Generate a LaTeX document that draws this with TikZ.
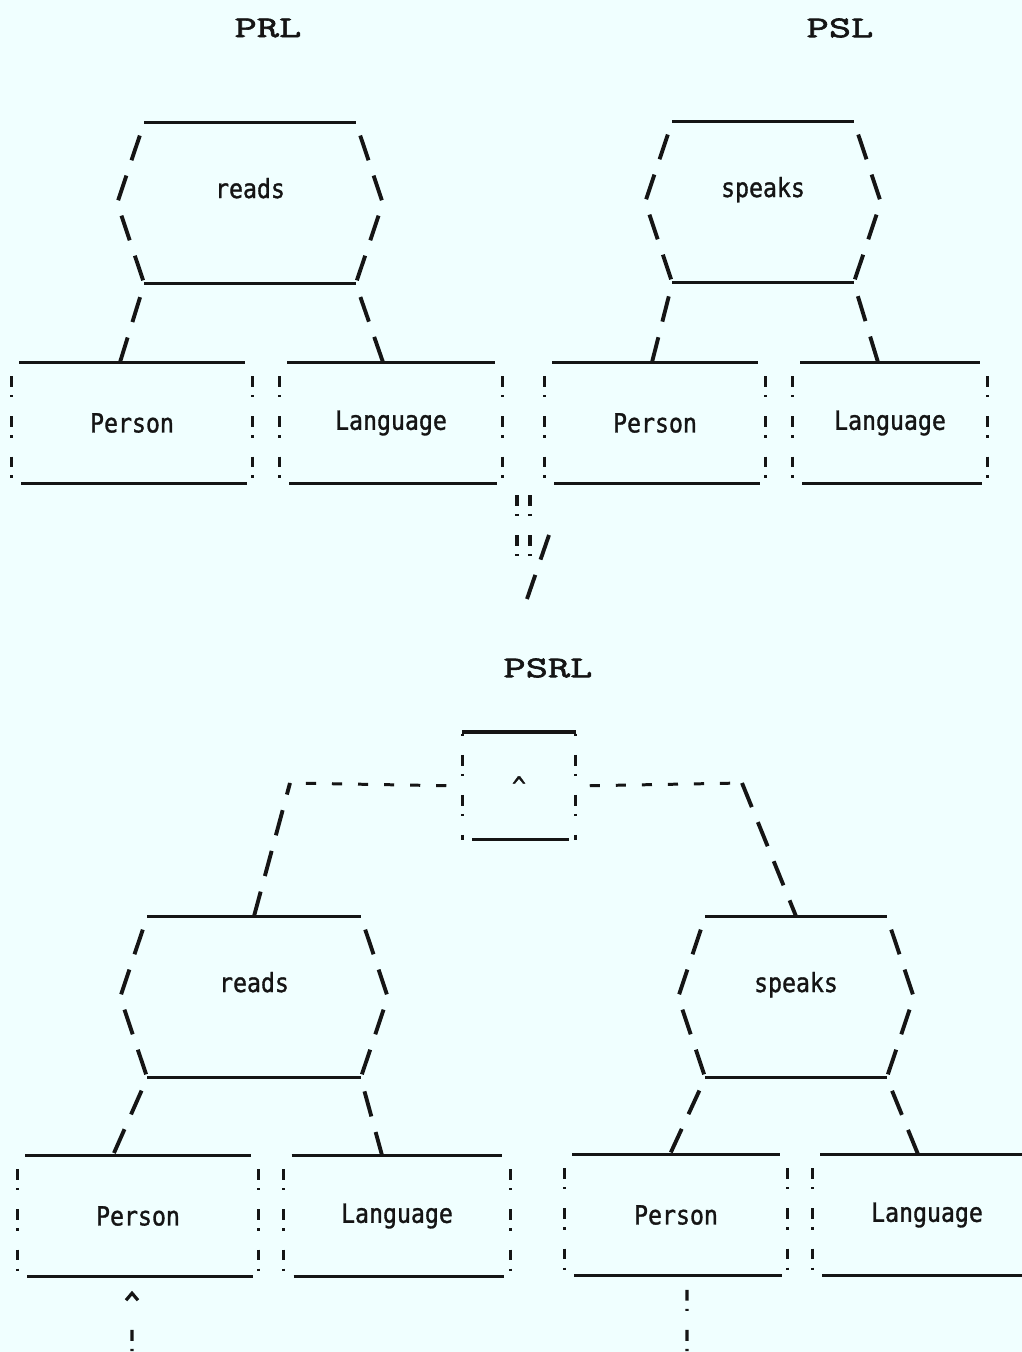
\documentclass[tikz,border=0pt]{standalone}
\usepackage{fontspec}
\usepackage{tikz}
\usetikzlibrary{arrows.meta}
\newfontfamily\asciifont[FakeStretch=0.88, FakeBold=1.2]{DejaVu Sans Mono}
\newfontfamily\headfont[FakeStretch=1.4, FakeBold=2]{lmmono10-regular.otf}
\definecolor{termBg}{HTML}{F0FFFF}
\definecolor{termInk}{HTML}{151515}
\tikzset{
  under/.style={draw=termInk, line width=0.8pt},
  slant/.style={draw=termInk, line width=1.1pt,
    dash pattern=on 7.4pt off 4.6pt, dash phase=8pt},
  bang/.style={draw=termInk, line width=0.9pt,
    dash pattern=on 3.1pt off 2.3pt on 0.6pt off 5.4pt, dash phase=7.4pt},
  minus/.style={draw=termInk, line width=0.85pt, dash pattern=on 2.9pt off 4.5pt},
  feed/.style={bang, dash pattern=on 3.1pt off 2.3pt on 0.6pt off 16.8pt, dash phase=12.8pt},
  relation/.style={minimum height=1.6cm, inner sep=0pt, text depth=0.3cm,
    font=\asciifont\fontsize{7.5pt}{9pt}\selectfont, text=termInk},
  entity/.style={minimum height=1.2cm, inner sep=0pt,
    font=\asciifont\fontsize{7.5pt}{9pt}\selectfont, text=termInk},
  heading/.style={font=\headfont\fontsize{8.6pt}{10pt}\selectfont, text=termInk}
}

\begin{document}
\begin{tikzpicture}[x=0.01cm, y=-0.01cm]
  \useasboundingbox (0,0) rectangle (1022,1352);
  \fill[termBg] (0,0) rectangle (1022,1352);
  \clip (0,0) rectangle (1022,1352);

  % headings
  \node[heading] (hPRL) at (268,28) {PRL};
  \node[heading] (hPSL) at (840,28) {PSL};
  \node[heading] (hPSRL) at (548,668) {PSRL};

  % relationships
  \node[relation, minimum width=2.1cm] (rdA) at (250,203) {reads};
  \node[relation, minimum width=1.8cm] (spA) at (763,202) {speaks};
  \node[relation, minimum width=2.12cm] (rdB) at (254,997) {reads};
  \node[relation, minimum width=1.8cm] (spB) at (796,997) {speaks};

  % entities
  \node[entity, minimum width=2.4cm] (pA) at (132,423) {Person};
  \node[entity, minimum width=2.22cm] (lA) at (391,423) {Language};
  \node[entity, minimum width=2.2cm] (pB) at (655,423) {Person};
  \node[entity, minimum width=1.94cm] (lB) at (890,423) {Language};
  \node[entity, minimum width=2.4cm] (pC) at (138,1216) {Person};
  \node[entity, minimum width=2.25cm] (lC) at (397,1216) {Language};
  \node[entity, minimum width=2.22cm] (pD) at (676,1215) {Person};
  \node[entity, minimum width=2.28cm] (lD) at (927,1215) {Language};
  \node[entity, minimum width=1.12cm, minimum height=1.06cm] (andN) at (519,786) {\textasciicircum};

  % hexagon outlines
  \foreach \r in {rdA,spA,rdB,spB}{
    \draw[under] (\r.north west) -- (\r.north east) (\r.south west) -- (\r.south east);
    \draw[slant] (\r.north west) -- ([xshift=-0.27cm]\r.west) -- (\r.south west);
    \draw[slant] (\r.north east) -- ([xshift=0.27cm]\r.east) -- (\r.south east);
  }

  % box outlines
  \foreach \b in {pA,lA,pB,lB,pC,lC,pD,lD}{
    \draw[under] ([xshift=0.08cm]\b.north west) -- ([xshift=-0.08cm]\b.north east)
                 ([xshift=0.1cm]\b.south west) -- ([xshift=-0.06cm]\b.south east);
    \draw[bang] (\b.north west) -- (\b.south west) (\b.north east) -- (\b.south east);
  }
  \draw[under, line width=1.1pt] (andN.north west) -- (andN.north east);
  \draw[under] ([xshift=0.1cm]andN.south west) -- ([xshift=-0.07cm]andN.south east);
  \draw[bang, dash phase=5pt] (andN.north west) -- (andN.south west)
                              (andN.north east) -- (andN.south east);

  % relationship legs
  \draw[slant] (rdA.south west) -- ([xshift=-0.12cm]pA.north);
  \draw[slant] (rdA.south east) -- ([xshift=-0.08cm]lA.north);
  \draw[slant] (spA.south west) -- ([xshift=-0.03cm]pB.north);
  \draw[slant] (spA.south east) -- ([xshift=-0.12cm]lB.north);
  \draw[slant] (rdB.south west) -- ([xshift=-0.25cm]pC.north);
  \draw[slant] (rdB.south east) -- ([xshift=-0.15cm]lC.north);
  \draw[slant] (spB.south west) -- ([xshift=-0.06cm]pD.north);
  \draw[slant] (spB.south east) -- ([xshift=-0.09cm]lD.north);

  % join marks between the two halves
  \coordinate (mixL) at (517,495);
  \coordinate (mixLe) at (517,560);
  \coordinate (mixR) at (530,495);
  \coordinate (mixRe) at (530,560);
  \coordinate (mixS) at (549,535);
  \coordinate (mixSe) at (527,599);
  \draw[bang, dash phase=0pt] (mixL) -- (mixLe) (mixR) -- (mixRe);
  \draw[slant, dash phase=0pt] (mixS) -- (mixSe);

  % conjunction arms
  \coordinate (kneeL) at (290,783);
  \coordinate (kneeR) at (742,783);
  \draw[minus, shorten <=0.16cm] (andN.west) -- (kneeL);
  \draw[minus, shorten <=0.14cm] (andN.east) -- (kneeR);
  \draw[slant, dash phase=4pt] (kneeL) -- (rdB.north);
  \draw[slant, dash phase=0pt] (kneeR) -- (spB.north);

  % outgoing links at the bottom
  \coordinate (inC) at (132,1360);
  \coordinate (outD) at (687,1360);
  \draw[feed, {Straight Barb[length=2pt,width=3.4pt]}-, shorten <=0.14cm]
    ([xshift=-0.06cm]pC.south) -- (inC);
  \draw[bang] ([xshift=0.11cm]pD.south) -- (outD);
\end{tikzpicture}
\end{document}
